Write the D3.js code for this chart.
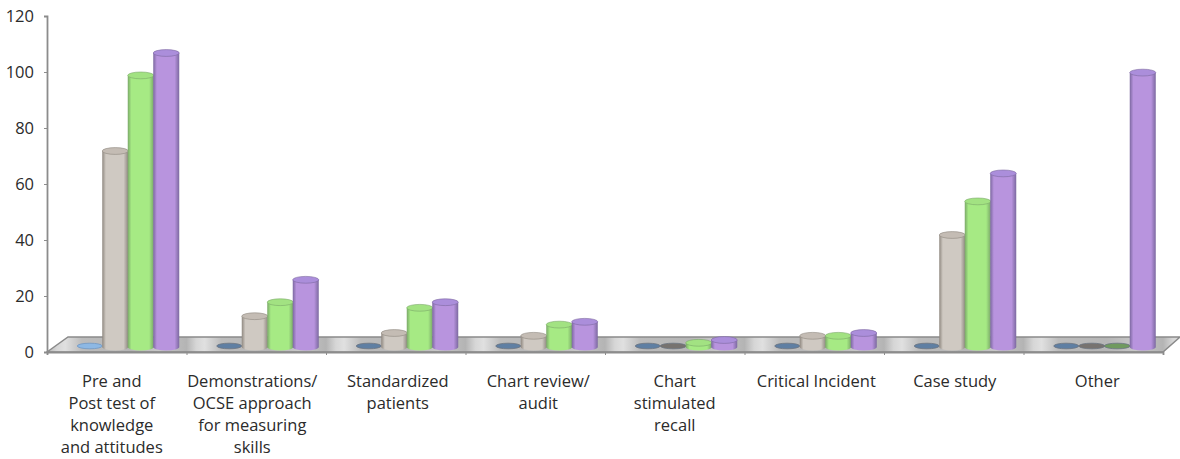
<!DOCTYPE html>
<html><head><meta charset="utf-8">
<script src="https://cdn.jsdelivr.net/npm/d3@7/dist/d3.min.js"></script>
<style>html,body{margin:0;background:#fff}svg{display:block}text{font-family:"Open Sans","Noto Sans",sans-serif;fill:#2b2b2b}</style>
</head><body><svg id="c" width="1180" height="459"></svg>
<script>
const categories=[["Pre and","Post test of","knowledge","and attitudes"],["Demonstrations/","OCSE approach","for measuring","skills"],["Standardized","patients"],["Chart review/","audit"],["Chart","stimulated","recall"],["Critical Incident"],["Case study"],["Other"]];
const seriesA=[1,0.5,0.5,0.5,0.5,0.5,0.5,0.5];
const seriesB=[70,11,5,4,0.5,4,40,0.5];
const seriesC=[97,16,14,8,1.5,4,52,0.5];
const seriesD=[105,24,16,9,2.5,5,62,98];
const yTicks=[0,20,40,60,80,100,120];
const labelNudge=[-5,-4,2,3,0,2,1,4];
const series=[seriesA,seriesB,seriesC,seriesD];
const palette=[{m:"#8db8e4",e:"#6f97c4",t:"#8db8e4",z:"#5f7fa3"},{m:"#cfc9c2",e:"#8f8880",t:"#c4bcb4",z:"#77736f"},{m:"#a6ea84",e:"#7aa868",t:"#a2e282",z:"#6f9a5f"},{m:"#b894de",e:"#7c68a0",t:"#ab8edb",z:"#8468a8"}];

const svg=d3.select("#c");
const y=d3.scaleLinear().domain([0,120]).range([352,16]);
const x=d3.scaleLinear().domain([0,8]).range([47,1163]);
const band=d3.scaleBand().domain(d3.range(4)).range([77,179]).padding(0);
const floorY=-5, step=x(1)-x(0), rx=13, ry=3.4;
const defs=svg.append("defs");
defs.append("filter").attr("id","soft").append("feGaussianBlur").attr("stdDeviation",0.7);
palette.forEach((p,i)=>{
  const g=defs.append("linearGradient").attr("id","g"+i);
  [[0,p.e],[0.14,p.m],[0.5,p.m],[0.82,p.m],[1,p.e]].forEach(s=>g.append("stop").attr("offset",s[0]).attr("stop-color",s[1]));
});
const fg=defs.append("linearGradient").attr("id","floor").attr("gradientUnits","userSpaceOnUse").attr("x1",x(0)).attr("x2",x(1)).attr("y1",0).attr("y2",0).attr("spreadMethod","repeat");
[[0,"#b4b4b4"],[0.07,"#d6d6d6"],[0.13,"#e0e0e0"],[0.25,"#bcbcbc"],[0.6,"#b6b6b6"],[0.8,"#c8c8c8"],[1,"#b4b4b4"]].forEach(s=>fg.append("stop").attr("offset",s[0]).attr("stop-color",s[1]));

// back edge / floor
const bx=21, by=-15;
svg.append("path").attr("d",`M${x(0)},${y(0)}L${x(0)+bx},${y(0)+by}L${x(8)+bx-4},${y(0)+by}L${x(8)},${y(0)}Z`)
  .attr("fill","url(#floor)").attr("stroke","#8a8a8a").attr("stroke-width",1.5).attr("filter","url(#soft)");

// axes
const ya=svg.append("g").attr("transform",`translate(${x(0)},0)`).call(d3.axisLeft(y).tickValues(yTicks).tickSize(3).tickPadding(10));
ya.selectAll("text").style("font-size","16.5px");
ya.selectAll("line,path").attr("stroke","#8c8c8c");
ya.select(".domain").attr("stroke-width",1.8);
const xa=svg.append("g").attr("transform",`translate(0,${y(0)})`).call(d3.axisBottom(x).ticks(8).tickSize(3).tickFormat(""));
xa.selectAll("line,path").attr("stroke","#8c8c8c");
xa.select(".domain").attr("stroke-width",1.8);

// cylinders
const marks=svg.append("g").attr("filter","url(#soft)");
categories.forEach((c,ci)=>{
  const off=step*ci;
  series.forEach((s,si)=>{
    const v=s[ci], p=palette[si];
    const cx=band(si)+band.bandwidth()/2+off;
    const w=si===0?rx-0.5:rx;
    const base=y(0)+floorY, top=y(v)+floorY;
    const g=marks.append("g");
    if(v<=1){
      g.append("ellipse").attr("cx",cx).attr("cy",base-1).attr("rx",w).attr("ry",ry-0.6)
       .attr("fill",ci===0?p.m:p.z).attr("stroke",ci===0?"#6f97c4":"#6b7480").attr("stroke-width",0.8);
      return;
    }
    g.append("path").attr("d",`M${cx-w},${top}L${cx-w},${base}A${w},${ry} 0 0 0 ${cx+w},${base}L${cx+w},${top}Z`)
     .attr("fill",`url(#g${si})`);
    g.append("ellipse").attr("cx",cx).attr("cy",top).attr("rx",w).attr("ry",ry).attr("fill",p.t).attr("stroke",p.e).attr("stroke-width",0.6);
  });
});

// labels
categories.forEach((c,ci)=>{
  const t=svg.append("text").attr("text-anchor","middle").style("font-size","16.5px")
    .attr("transform",`translate(${x(ci+0.5)+labelNudge[ci]},386.5)`);
  c.forEach((l,i)=>t.append("tspan").attr("x",0).attr("y",i*22).text(l));
});
</script></body></html>
